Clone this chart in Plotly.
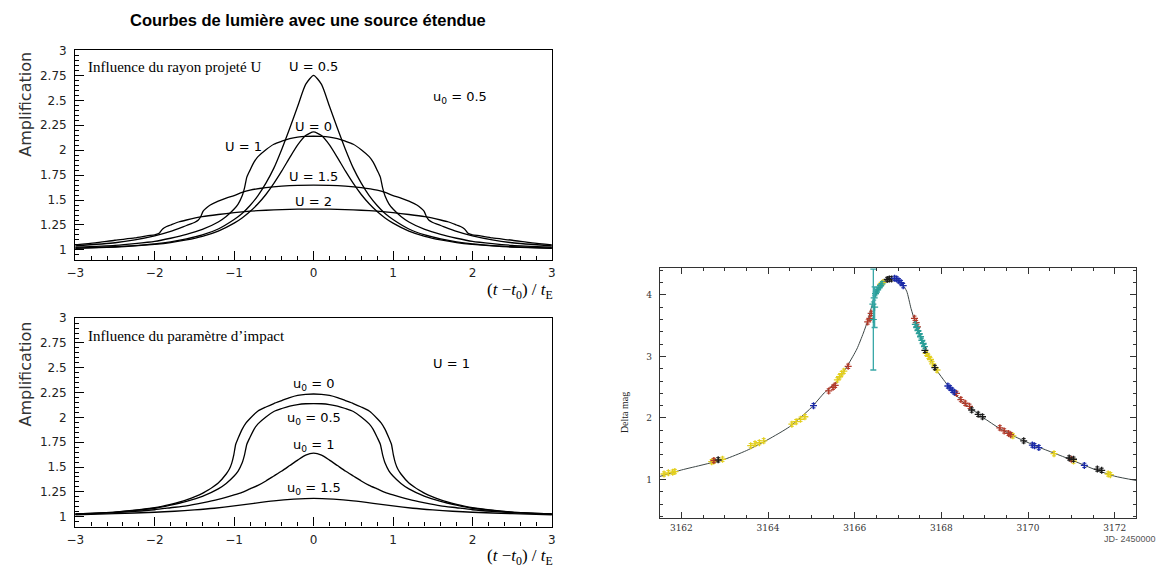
import plotly.graph_objects as go

# ---------------- data: top panel (u0 = 0.5, various U) ----------------
x_grid = [-3, -2.5, -2.25, -2, -1.8, -1.6, -1.4, -1.2, -1, -0.9, -0.8, -0.7, -0.6, -0.5, -0.4, -0.3, -0.2, -0.1, 0,
          0.1, 0.2, 0.3, 0.4, 0.5, 0.6, 0.7, 0.8, 0.9, 1, 1.2, 1.4, 1.6, 1.8, 2, 2.25, 2.5, 3]
amp_U0 = [1.016, 1.029, 1.04, 1.056, 1.074, 1.10, 1.136, 1.189, 1.269, 1.321, 1.385, 1.463, 1.556, 1.667, 1.792, 1.926, 2.053, 2.147, 2.183,
          2.147, 2.053, 1.926, 1.792, 1.667, 1.556, 1.463, 1.385, 1.321, 1.269, 1.189, 1.136, 1.10, 1.074, 1.056, 1.04, 1.029, 1.016]
amp_U05 = [1.018, 1.032, 1.044, 1.06, 1.08, 1.11, 1.15, 1.21, 1.305, 1.365, 1.445, 1.545, 1.67, 1.82, 2.01, 2.22, 2.44, 2.66, 2.75,
           2.66, 2.44, 2.22, 2.01, 1.82, 1.67, 1.545, 1.445, 1.365, 1.305, 1.21, 1.15, 1.11, 1.08, 1.06, 1.044, 1.032, 1.018]

x_U1 = [-3.0, -2.5, -2.25, -2.0, -1.8, -1.6, -1.4, -1.2, -1.1, -1.0, -0.95, -0.9, -0.87, -0.84, -0.8, -0.75, -0.7, -0.6, -0.5, -0.4, -0.3, -0.2, -0.1, 0.0,
        0.1, 0.2, 0.3, 0.4, 0.5, 0.6, 0.7, 0.75, 0.8, 0.84, 0.87, 0.9, 0.95, 1.0, 1.1, 1.2, 1.4, 1.6, 1.8, 2.0, 2.25, 2.5, 3.0]
amp_U1 = [1.027, 1.046, 1.063, 1.085, 1.117, 1.155, 1.205, 1.28, 1.335, 1.41, 1.46, 1.54, 1.62, 1.73, 1.80, 1.88, 1.935, 2.005, 2.06, 2.09, 2.115, 2.13, 2.138, 2.14,
          2.138, 2.13, 2.115, 2.09, 2.06, 2.005, 1.935, 1.88, 1.80, 1.73, 1.62, 1.54, 1.46, 1.41, 1.335, 1.28, 1.205, 1.155, 1.117, 1.085, 1.063, 1.046, 1.027]

x_U15 = [-3, -2.5, -2.25, -2, -1.8, -1.6, -1.5, -1.45, -1.42, -1.39, -1.35, -1.3, -1.2, -1.1, -1, -0.9, -0.8, -0.6, -0.4, -0.2, 0,
         0.2, 0.4, 0.6, 0.8, 0.9, 1, 1.1, 1.2, 1.3, 1.35, 1.39, 1.42, 1.45, 1.5, 1.6, 1.8, 2, 2.25, 2.5, 3]
amp_U15 = [1.04, 1.072, 1.10, 1.14, 1.185, 1.245, 1.275, 1.30, 1.335, 1.39, 1.42, 1.45, 1.49, 1.52, 1.545, 1.578, 1.60, 1.625, 1.64, 1.648, 1.65,
           1.648, 1.64, 1.625, 1.60, 1.578, 1.545, 1.52, 1.49, 1.45, 1.42, 1.39, 1.335, 1.30, 1.275, 1.245, 1.185, 1.14, 1.10, 1.072, 1.04]

x_U2 = [-3, -2.75, -2.5, -2.25, -2.1, -2, -1.97, -1.94, -1.9, -1.85, -1.8, -1.7, -1.6, -1.4, -1.2, -1, -0.8, -0.6, -0.4, -0.2, 0,
        0.2, 0.4, 0.6, 0.8, 1, 1.2, 1.4, 1.6, 1.7, 1.8, 1.85, 1.9, 1.94, 1.97, 2, 2.1, 2.25, 2.5, 2.75, 3]
amp_U2 = [1.05, 1.07, 1.097, 1.12, 1.14, 1.152, 1.158, 1.17, 1.21, 1.235, 1.25, 1.28, 1.30, 1.333, 1.355, 1.373, 1.388, 1.398, 1.405, 1.409, 1.41,
          1.409, 1.405, 1.398, 1.388, 1.373, 1.355, 1.333, 1.30, 1.28, 1.25, 1.235, 1.21, 1.17, 1.158, 1.152, 1.14, 1.12, 1.097, 1.07, 1.05]

# ---------------- data: bottom panel (U = 1, various u0) ----------------
x_u00 = [-3, -2.5, -2.25, -2, -1.8, -1.6, -1.4, -1.2, -1.1, -1.06, -1.03, -1.005, -0.98, -0.95, -0.9, -0.85, -0.8, -0.7, -0.6, -0.5, -0.4, -0.3, -0.2, -0.1, 0,
         0.1, 0.2, 0.3, 0.4, 0.5, 0.6, 0.7, 0.8, 0.85, 0.9, 0.95, 0.98, 1.005, 1.03, 1.06, 1.1, 1.2, 1.4, 1.6, 1.8, 2, 2.25, 2.5, 3]
amp_u00 = [1.028, 1.047, 1.065, 1.09, 1.125, 1.17, 1.235, 1.34, 1.43, 1.48, 1.54, 1.62, 1.73, 1.79, 1.88, 1.945, 1.99, 2.065, 2.105, 2.14, 2.17, 2.2, 2.222, 2.233, 2.236,
           2.233, 2.222, 2.2, 2.17, 2.14, 2.105, 2.065, 1.99, 1.945, 1.88, 1.79, 1.73, 1.62, 1.54, 1.48, 1.43, 1.34, 1.235, 1.17, 1.125, 1.09, 1.065, 1.047, 1.028]

x_u005 = x_U1          # u0 = 0.5, U = 1 is the same light curve as in the top panel
amp_u005 = amp_U1

amp_u01 = [1.024, 1.04, 1.053, 1.07, 1.09, 1.11, 1.14, 1.175, 1.22, 1.245, 1.28, 1.315, 1.36, 1.41, 1.46, 1.515, 1.57, 1.62, 1.64,
           1.62, 1.57, 1.515, 1.46, 1.41, 1.36, 1.315, 1.28, 1.245, 1.22, 1.175, 1.14, 1.11, 1.09, 1.07, 1.053, 1.04, 1.024]

x_u015 = [-3, -2.5, -2, -1.75, -1.5, -1.25, -1, -0.75, -0.5, -0.25, 0, 0.25, 0.5, 0.75, 1, 1.25, 1.5, 1.75, 2, 2.5, 3]
amp_u015 = [1.018, 1.03, 1.045, 1.055, 1.068, 1.085, 1.108, 1.135, 1.16, 1.177, 1.185,
            1.177, 1.16, 1.135, 1.108, 1.085, 1.068, 1.055, 1.045, 1.03, 1.018]

# ---------------- data: right panel (observed event) ----------------
jd_fit = [3161.5, 3162.0, 3162.5, 3163.0, 3163.5, 3164.0, 3164.5, 3165.0, 3165.3, 3165.6, 3165.85, 3166.05, 3166.2, 3166.3,
          3166.4, 3166.5, 3166.6, 3166.7, 3166.8, 3166.9, 3167.0, 3167.1, 3167.2, 3167.3, 3167.4, 3167.5, 3167.65, 3167.85,
          3168.15, 3168.45, 3168.9, 3169.3, 3169.75, 3170.2, 3170.6, 3171.0, 3171.5, 3172.0, 3172.5]
dmag_fit = [1.05, 1.155, 1.24, 1.33, 1.47, 1.65, 1.86, 2.17, 2.41, 2.6, 2.87, 3.12, 3.38, 3.58,
            3.83, 4.02, 4.15, 4.23, 4.26, 4.265, 4.24, 4.17, 4.06, 3.78, 3.55, 3.35, 3.11, 2.82,
            2.53, 2.29, 2.04, 1.85, 1.68, 1.54, 1.43, 1.32, 1.175, 1.055, 0.985]

jd_yellow = [3161.6, 3161.7, 3161.8, 3161.85, 3162.7, 3162.75, 3162.95, 3163.6, 3163.7, 3163.8, 3163.9, 3164.55, 3164.65, 3164.75,
             3164.85, 3165.6, 3165.65, 3165.7, 3165.75, 3166.6, 3166.65, 3167.65, 3167.7, 3167.75, 3167.8, 3167.9, 3169.65,
             3170.6, 3171.05, 3171.85, 3171.9]
dmag_yellow = [1.09, 1.11, 1.12, 1.13, 1.29, 1.30, 1.33, 1.55, 1.58, 1.60, 1.63, 1.90, 1.94, 1.98,
               2.02, 2.62, 2.67, 2.72, 2.76, 4.17, 4.20, 3.05, 3.0, 2.95, 2.88, 2.78, 1.71,
               1.42, 1.30, 1.09, 1.08]
jd_red = [3162.75, 3165.4, 3165.5, 3165.55, 3165.85, 3166.3, 3166.35, 3166.38, 3167.38, 3167.42, 3167.45, 3168.35, 3168.45,
          3168.55, 3168.65, 3169.35, 3169.45, 3169.55, 3169.6, 3171.0]
dmag_red = [1.31, 2.44, 2.50, 2.53, 2.84, 3.56, 3.62, 3.70, 3.62, 3.55, 3.48, 2.40, 2.30,
            2.24, 2.19, 1.84, 1.79, 1.75, 1.73, 1.33]
jd_black = [3162.85, 3166.75, 3166.8, 3166.85, 3167.62, 3167.85, 3168.7, 3168.85, 3168.95, 3169.9, 3170.95, 3171.05, 3171.6, 3171.7]
dmag_black = [1.32, 4.25, 4.26, 4.26, 3.10, 2.82, 2.13, 2.06, 2.02, 1.63, 1.35, 1.33, 1.17, 1.15]
jd_blue = [3165.05, 3166.92, 3166.97, 3167.02, 3167.07, 3167.12, 3168.15, 3168.2, 3168.25, 3168.3, 3170.1, 3170.15, 3170.25, 3171.3]
dmag_blue = [2.20, 4.27, 4.26, 4.23, 4.20, 4.15, 2.52, 2.49, 2.45, 2.42, 1.56, 1.55, 1.52, 1.23]
jd_teal = [3166.42, 3166.45, 3166.48, 3166.5, 3166.53, 3166.56, 3166.6, 3166.63,
           3167.4, 3167.43, 3167.46, 3167.49, 3167.52, 3167.55, 3167.58, 3167.61]
dmag_teal = [3.85, 3.95, 4.02, 4.05, 4.08, 4.12, 4.15, 4.18,
             3.52, 3.47, 3.42, 3.37, 3.32, 3.26, 3.21, 3.16]
jd_teal_big = [3166.43, 3166.46]
dmag_teal_big = [3.60, 3.80]
err_teal_big = [0.82, 0.33]

# ---------------- figure ----------------
W, H = 1171, 577


def fx(p):
    return p / W


def fy(p):
    return 1 - p / H


fig = go.Figure()


def curve(x, y, xa, ya):
    fig.add_trace(go.Scatter(x=x, y=y, mode='lines', xaxis=xa, yaxis=ya, hoverinfo='skip',
                             line=dict(color='black', width=1.3, shape='spline', smoothing=0.6)))


curve(x_grid, amp_U0, 'x', 'y')
curve(x_grid, amp_U05, 'x', 'y')
curve(x_U1, amp_U1, 'x', 'y')
curve(x_U15, amp_U15, 'x', 'y')
curve(x_U2, amp_U2, 'x', 'y')

curve(x_u00, amp_u00, 'x2', 'y2')
curve(x_u005, amp_u005, 'x2', 'y2')
curve(x_grid, amp_u01, 'x2', 'y2')
curve(x_u015, amp_u015, 'x2', 'y2')

fig.add_trace(go.Scatter(x=jd_fit, y=dmag_fit, mode='lines', xaxis='x3', yaxis='y3', hoverinfo='skip',
                         line=dict(color='#3c4646', width=1, shape='spline', smoothing=0.6)))


def points(x, y, c):
    fig.add_trace(go.Scatter(x=x, y=y, mode='markers', xaxis='x3', yaxis='y3', hoverinfo='skip',
                             marker=dict(symbol='cross-thin', size=5, color=c, line=dict(width=1.3, color=c)),
                             error_y=dict(type='constant', value=0.035, thickness=1, width=2, color=c)))


points(jd_yellow, dmag_yellow, '#e3cf1c')
points(jd_red, dmag_red, '#b23a2a')
points(jd_black, dmag_black, '#1a1a1a')
points(jd_blue, dmag_blue, '#1a2aa8')
points(jd_teal, dmag_teal, '#2a9e98')
fig.add_trace(go.Scatter(x=jd_teal_big, y=dmag_teal_big, mode='markers', xaxis='x3', yaxis='y3', hoverinfo='skip',
                         marker=dict(symbol='cross-thin', size=5, color='#2a9e98', line=dict(width=1.2, color='#2a9e98')),
                         error_y=dict(type='data', array=err_teal_big, thickness=1.3, width=3, color='#3aa8a8')))

tick_sans = dict(family='DejaVu Sans', size=12, color='#222')
left_x = dict(range=[-3, 3], showline=True, linecolor='black', linewidth=1.3, mirror=True,
              ticks='inside', ticklen=9, tickwidth=1, tickcolor='black', tick0=0, dtick=1,
              minor=dict(ticks='inside', dtick=0.2, ticklen=4, tickcolor='black', tickwidth=1),
              showgrid=False, zeroline=False, tickfont=tick_sans, ticklabelstandoff=2, fixedrange=True)
left_y = dict(range=[0.9, 3], showline=True, linecolor='black', linewidth=1.3, mirror=True,
              ticks='inside', ticklen=9, tickwidth=1, tickcolor='black', tick0=0, dtick=0.25,
              minor=dict(ticks='inside', dtick=0.05, ticklen=4, tickcolor='black', tickwidth=1),
              showgrid=False, zeroline=False, tickfont=tick_sans, ticklabelstandoff=5, fixedrange=True)

tick_serif = dict(family='DejaVu Serif', size=9, color='#333')
right_x = dict(range=[3161.5, 3172.5], showline=True, linecolor='#333', linewidth=1, mirror='ticks',
               ticks='inside', ticklen=6, tickwidth=1, tickcolor='#333', tick0=3162, dtick=2,
               minor=dict(ticks='inside', dtick=0.5, ticklen=3, tickcolor='#333', tickwidth=1),
               showgrid=False, zeroline=False, tickfont=tick_serif, ticklabelstandoff=1, fixedrange=True)
right_y = dict(range=[0.38, 4.44], showline=True, linecolor='#333', linewidth=1, mirror='ticks',
               ticks='inside', ticklen=6, tickwidth=1, tickcolor='#333', tick0=0, dtick=1,
               minor=dict(ticks='inside', dtick=0.2, ticklen=3, tickcolor='#333', tickwidth=1),
               showgrid=False, zeroline=False, tickfont=tick_serif, ticklabelstandoff=5, fixedrange=True)

fig.update_layout(
    width=W, height=H, margin=dict(l=0, r=0, t=0, b=0),
    paper_bgcolor='white', plot_bgcolor='white', showlegend=False,
    xaxis=dict(left_x, domain=[fx(67), fx(549)], anchor='y'),
    yaxis=dict(left_y, domain=[fy(256), fy(44)], anchor='x'),
    xaxis2=dict(left_x, domain=[fx(67), fx(549)], anchor='y2'),
    yaxis2=dict(left_y, domain=[fy(526), fy(315)], anchor='x2'),
    xaxis3=dict(right_x, domain=[fx(658), fx(1140)], anchor='y3'),
    yaxis3=dict(right_y, domain=[fy(517), fy(264)], anchor='x3'),
)

ann = []
lab = dict(family='DejaVu Sans', size=13, color='black')
serif = dict(family='Liberation Serif', size=15, color='black')


def a(text, x, y, xref, yref, font, xanchor='center', yanchor='middle', angle=0):
    ann.append(dict(text=text, x=x, y=y, xref=xref, yref=yref, font=font, showarrow=False,
                    xanchor=xanchor, yanchor=yanchor, textangle=angle))


# title
a('<b>Courbes de lumière avec une source étendue</b>', fx(302), fy(13), 'paper', 'paper',
  dict(family='Liberation Sans', size=16.5, color='black'))

# top panel texts
a('Influence du rayon projeté U', -2.86, 2.835, 'x', 'y', serif, xanchor='left')
a('U = 0.5', 0, 2.835, 'x', 'y', lab)
a('u<sub>0</sub> = 0.5', 1.84, 2.53, 'x', 'y', lab)
a('U = 0', 0, 2.234, 'x', 'y', lab)
a('U = 1', -0.88, 2.036, 'x', 'y', lab)
a('U = 1.5', 0, 1.739, 'x', 'y', lab)
a('U = 2', 0, 1.482, 'x', 'y', lab)

# bottom panel texts
a('Influence du paramètre d’impact', -2.86, 2.82, 'x2', 'y2', serif, xanchor='left')
a('U = 1', 1.73, 2.54, 'x2', 'y2', lab)
a('u<sub>0</sub> = 0', 0, 2.333, 'x2', 'y2', lab)
a('u<sub>0</sub> = 0.5', 0, 1.993, 'x2', 'y2', lab)
a('u<sub>0</sub> = 1', 0, 1.72, 'x2', 'y2', lab)
a('u<sub>0</sub> = 1.5', 0, 1.287, 'x2', 'y2', lab)

# axis titles, left panels
ytit = dict(family='DejaVu Sans', size=16, color='#333')
a('Amplification', fx(17), fy(43), 'paper', 'paper', ytit, yanchor='top', angle=-90)
a('Amplification', fx(17), fy(316), 'paper', 'paper', ytit, yanchor='top', angle=-90)
xtit = dict(family='Liberation Serif', size=17, color='black')
xt = '(<i>t</i> −<i>t</i><sub>0</sub>) / <i>t</i><sub>E</sub>'
a(xt, fx(552), fy(287), 'paper', 'paper', xtit, xanchor='right')
a(xt, fx(552), fy(557), 'paper', 'paper', xtit, xanchor='right')

# right panel titles
a('Delta mag', fx(622), fy(411), 'paper', 'paper', dict(family='Liberation Serif', size=10, color='#222'), angle=-90)
a('JD- 2450000', fx(1162), fy(539), 'paper', 'paper', dict(family='Liberation Sans', size=9, color='#555'), xanchor='right')

fig.update_layout(annotations=ann)
fig.write_html('out.html', post_script="document.body.style.margin='0px';document.body.style.overflow='hidden';")
